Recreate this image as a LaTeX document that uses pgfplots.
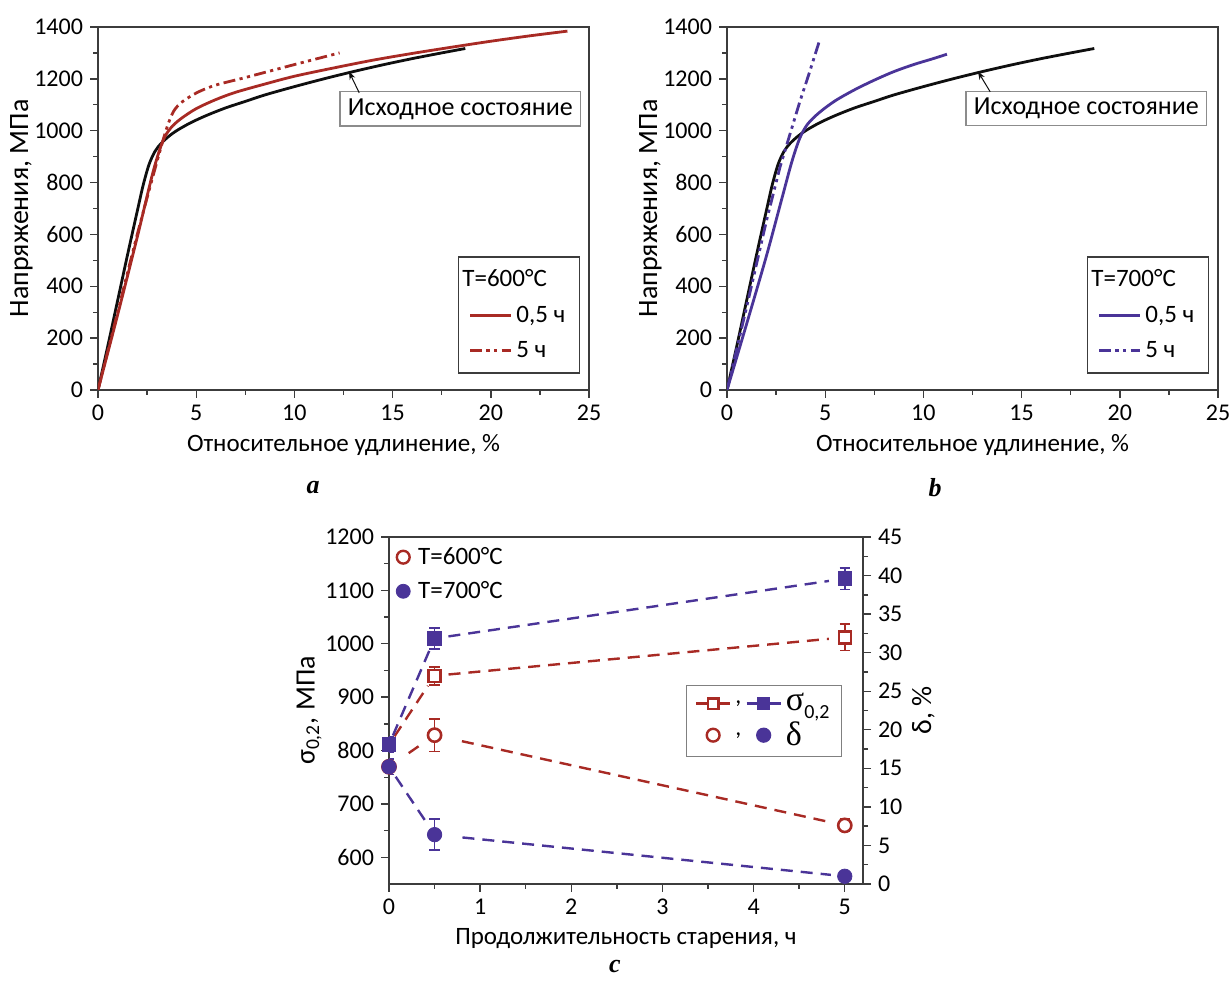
\documentclass[border=0pt]{standalone}
\usepackage{fontspec}
\setmainfont{Carlito}
\newfontfamily\grk{Liberation Serif}
\usepackage{pgfplots}
\pgfplotsset{compat=1.18}
\usetikzlibrary{arrows.meta}
\definecolor{rd}{RGB}{168,42,36}
\definecolor{bl}{RGB}{74,52,152}
\definecolor{bk}{RGB}{15,15,15}
\definecolor{axc}{RGB}{60,60,60}
\pgfplotsset{
  myax0/.style={
    scale only axis,
    font=\fontsize{12}{14}\selectfont,
    tick label style={font=\fontsize{12}{14}\selectfont},
    label style={font=\fontsize{12.5}{15}\selectfont},
    /pgf/number format/assume math mode=true,
    /pgf/number format/1000 sep={},
    tick align=outside,
    axis line style={line width=0.8pt, axc},
    major tick length=4pt, minor tick length=2.5pt,
    every tick/.style={axc, line width=0.7pt},
    minor tick num=1,
  },
  myax/.style={myax0, tick pos=left},
  ebar/.style={
    error bars/error bar style={line width=0.8pt, solid},
    error bars/error mark options={rotate=90, mark size=2.6pt, line width=0.8pt, solid},
  },
  ssax/.style={
    myax, anchor=south west, width=245.5pt, height=181.5pt,
    xmin=0, xmax=25, ymin=0, ymax=1400,
    xtick={0,5,...,25}, ytick={0,200,...,1400},
    xlabel={Относительное удлинение, \%},
    ylabel={Напряжения, МПа},
    ylabel style={font=\fontsize{14}{16}\selectfont},
    ylabel shift=-6pt,
    legend style={at={(0.982,0.044)}, anchor=south east, draw=axc, line width=0.8pt,
      font=\fontsize{12.5}{15}\selectfont, inner xsep=5pt, inner ysep=4.5pt, row sep=4pt},
    legend cell align=left,
    legend image code/.code={\draw[#1] (0cm,0cm) -- (0.72cm,0cm);},
  },
  ddot/.style={dash pattern=on 6pt off 2.2pt on 1.6pt off 2.2pt on 1.6pt off 2.2pt},
}
\begin{document}
\begin{tikzpicture}
\useasboundingbox (0,0) rectangle (616pt,491.5pt);

% ---------------- panel a ----------------
\begin{axis}[ssax, at={(49pt,296.5pt)}]
\addplot[bk, line width=1.4pt, smooth, forget plot] coordinates {
(0,0) (0.5,170) (1,345) (1.5,520) (2,690) (2.3,790) (2.6,870) (2.9,920) (3.2,950)
(3.6,978) (4,1000) (4.7,1030) (5.5,1058) (6.5,1088) (7.5,1113) (8.5,1138) (10,1170)
(11.5,1200) (13,1228) (14.5,1254) (16,1278) (17.5,1300) (18.7,1317)};
\addplot[rd, line width=1.4pt, smooth, forget plot] coordinates {
(0,0) (1,290) (2,590) (2.8,840) (3.3,960) (3.7,1010) (4.2,1045) (5,1085) (6,1120)
(7,1148) (8.5,1180) (10,1210) (12,1242) (14,1272) (16,1298) (18,1322) (20,1345)
(22,1366) (23.9,1384)};
\addplot[rd, line width=1.4pt, ddot, smooth, forget plot] coordinates {
(0,0) (1,300) (2,600) (3,880) (3.5,1010) (3.86,1076) (4.3,1112) (5.07,1148) (6,1176)
(7.5,1205) (10,1255) (12.3,1300)};
\addlegendimage{empty legend}
\addlegendentry{\hspace*{-27pt}T=600°C}
\addlegendimage{rd, line width=1.4pt}
\addlegendentry{0,5 ч}
\addlegendimage{rd, line width=1.4pt, ddot}
\addlegendentry{5 ч}
\node[draw=black!45, line width=0.6pt, fill=white, inner xsep=4pt, minimum height=15.5pt,
  font=\fontsize{13}{15}\selectfont] at (axis cs:18.45,1084) {Исходное состояние};
\draw[-{Stealth[length=4pt,width=3pt]}, line width=0.5pt, bk] (axis cs:13.3,1146) -- (axis cs:12.78,1228);
\end{axis}

% ---------------- panel b ----------------
\begin{axis}[ssax, at={(363.5pt,296.5pt)}]
\addplot[bk, line width=1.4pt, smooth, forget plot] coordinates {
(0,0) (0.5,170) (1,345) (1.5,520) (2,690) (2.3,790) (2.6,870) (2.9,920) (3.2,950)
(3.6,978) (4,1000) (4.7,1030) (5.5,1058) (6.5,1088) (7.5,1113) (8.5,1138) (10,1170)
(11.5,1200) (13,1228) (14.5,1254) (16,1278) (17.5,1300) (18.7,1317)};
\addplot[bl, line width=1.4pt, smooth, forget plot] coordinates {
(0,0) (1,255) (2,515) (2.8,740) (3.3,880) (3.7,970) (4.1,1025) (4.7,1070) (5.5,1115)
(6.5,1158) (7.5,1195) (8.5,1228) (9.5,1255) (10.5,1278) (11.2,1295)};
\addplot[bl, line width=1.4pt, ddot, forget plot] coordinates {
(0,0) (1,320) (2,650) (2.7,860) (3.2,985) (3.7,1110) (4.2,1225) (4.7,1345)};
\addlegendimage{empty legend}
\addlegendentry{\hspace*{-27pt}T=700°C}
\addlegendimage{bl, line width=1.4pt}
\addlegendentry{0,5 ч}
\addlegendimage{bl, line width=1.4pt, ddot}
\addlegendentry{5 ч}
\node[draw=black!45, line width=0.6pt, fill=white, inner xsep=4pt, minimum height=15.5pt,
  font=\fontsize{13}{15}\selectfont] at (axis cs:18.3,1086) {Исходное состояние};
\draw[-{Stealth[length=4pt,width=3pt]}, line width=0.5pt, bk] (axis cs:13.4,1150) -- (axis cs:12.78,1228);
\end{axis}

% ---------------- panel c ----------------
\begin{axis}[myax, ebar, anchor=south west, at={(194.5pt,49.5pt)}, width=237pt, height=173.5pt,
  xmin=0, xmax=5.2, ymin=550, ymax=1200,
  xtick={0,1,...,5}, ytick={600,700,...,1200},
  xlabel={Продолжительность старения, ч},
  ylabel={σ\textsubscript{0,2}, МПа},
  ylabel style={font=\fontsize{14}{16}\selectfont},
  ylabel shift=-5pt,
  legend style={at={(0.956,0.574)}, anchor=north east, draw=black!50, line width=0.6pt,
    font=\fontsize{12}{14}\selectfont, inner xsep=4pt, inner ysep=2pt, row sep=0pt},
  legend columns=2,
  legend cell align=left,
  legend image code/.code={\draw[mark repeat=2,mark phase=2,#1] plot coordinates {(0cm,0cm) (0.3cm,0cm) (0.6cm,0cm)};},
]
\addplot[rd, line width=1.2pt, dash pattern=on 6pt off 4pt, shorten <=5pt, shorten >=6pt, forget plot] coordinates {(0,811) (0.5,940)};
\addplot[rd, line width=1.2pt, dash pattern=on 6pt off 4pt, shorten <=7pt, shorten >=8pt, forget plot] coordinates {(0.5,940) (5,1012)};
\addplot[bl, line width=1.2pt, dash pattern=on 6pt off 4pt, shorten <=5pt, shorten >=6pt, forget plot] coordinates {(0,811) (0.5,1010)};
\addplot[bl, line width=1.2pt, dash pattern=on 6pt off 4pt, shorten <=7pt, shorten >=8pt, forget plot] coordinates {(0.5,1010) (5,1122)};
\addplot[rd, only marks, mark=square*, mark size=3pt, mark options={fill=white, line width=1.2pt}, forget plot,
  error bars/.cd, y dir=both, y explicit] table[x=x, y=y, y error=e] {
x y e
0 811 0
0.5 940 17
5 1012 25
};
\addplot[bl, only marks, mark=square*, mark size=3pt, mark options={fill=bl, line width=1.2pt}, forget plot,
  error bars/.cd, y dir=both, y explicit] table[x=x, y=y, y error=e] {
x y e
0 811 14
0.5 1010 20
5 1122 20
};
\addlegendimage{rd, line width=1.2pt, mark=square*, mark size=2.6pt, mark options={fill=white, solid}}
\addlegendentry{,}
\addlegendimage{bl, line width=1.2pt, mark=square*, mark size=2.6pt, mark options={fill=bl, solid}}
\addlegendentry{{\grk\fontsize{17}{17}\selectfont σ}{\fontsize{10}{10}\selectfont\raisebox{-4pt}{0,2}}}
\addlegendimage{only marks, rd, mark=*, mark size=3.2pt, mark options={fill=white, line width=1.2pt}}
\addlegendentry{,}
\addlegendimage{only marks, bl, mark=*, mark size=3.5pt, mark options={fill=bl}}
\addlegendentry{{\grk\fontsize{17}{17}\selectfont δ}}
\end{axis}

\begin{axis}[myax0, ebar, anchor=south west, at={(194.5pt,49.5pt)}, width=237pt, height=173.5pt,
  xmin=0, xmax=5.2, ymin=0, ymax=45,
  axis x line=none, axis y line*=right,
  ytick pos=right, yticklabel pos=right,
  ytick={0,5,...,45},
  ylabel={δ, \%},
  ylabel style={font=\fontsize{14}{16}\selectfont},
  ylabel shift=-2pt,
  legend style={at={(0.006,0.995)}, anchor=north west, draw=none, fill=none,
    font=\fontsize{12.5}{15}\selectfont, inner xsep=2pt, inner ysep=2pt, row sep=3pt},
  legend cell align=left,
  legend image code/.code={\draw[#1] plot coordinates {(0.2cm,0cm)};},
]
\addplot[rd, line width=1.2pt, dash pattern=on 6pt off 4pt, shorten <=12pt, shorten >=6pt, forget plot] coordinates {(0,15.2) (0.5,19.3)};
\addplot[rd, line width=1.2pt, dash pattern=on 6pt off 4pt, shorten <=14pt, shorten >=7pt, forget plot] coordinates {(0.5,19.3) (5,7.6)};
\addplot[bl, line width=1.2pt, dash pattern=on 6pt off 4pt, shorten <=6pt, shorten >=5pt, forget plot] coordinates {(0,15.2) (0.5,6.4)};
\addplot[bl, line width=1.2pt, dash pattern=on 6pt off 4pt, shorten <=14pt, shorten >=7pt, forget plot] coordinates {(0.5,6.4) (5,1.0)};
\addplot[rd, only marks, mark=*, mark size=3.3pt, mark options={fill=white, line width=1.3pt}, forget plot,
  error bars/.cd, y dir=both, y explicit] table[x=x, y=y, y error=e] {
x y e
0 15.2 0
0.5 19.3 2.1
5 7.6 0.8
};
\addplot[bl, only marks, mark=*, mark size=3.6pt, mark options={fill=bl}, forget plot,
  error bars/.cd, y dir=both, y explicit] table[x=x, y=y, y error=e] {
x y e
0 15.2 1
0.5 6.4 2.0
5 1.0 0
};
\addlegendimage{only marks, rd, mark=*, mark size=3.2pt, mark options={fill=white, line width=1.2pt}}
\addlegendentry{\hspace*{2pt}T=600°C}
\addlegendimage{only marks, bl, mark=*, mark size=3.5pt, mark options={fill=bl}}
\addlegendentry{\hspace*{2pt}T=700°C}
\end{axis}

\node[font=\grk\bfseries\itshape\fontsize{13}{15}\selectfont] at (156.5pt,247.5pt) {a};
\node[font=\grk\bfseries\itshape\fontsize{13}{15}\selectfont] at (467.5pt,247.5pt) {b};
\node[font=\grk\bfseries\itshape\fontsize{13}{15}\selectfont] at (307.5pt,8pt) {c};
\end{tikzpicture}
\end{document}
